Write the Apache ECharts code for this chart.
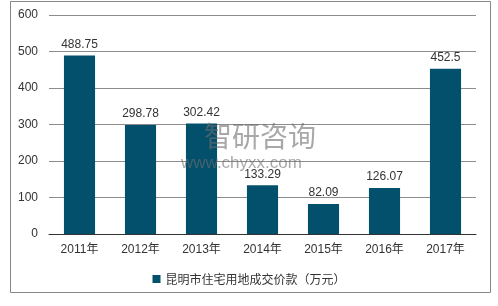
<!DOCTYPE html>
<html><head><meta charset="utf-8">
<script src="https://cdn.jsdelivr.net/npm/echarts@6/dist/echarts.min.js"></script>
<style>html,body{margin:0;padding:0;background:#fff}#c{width:498px;height:306px}</style>
</head><body><div id="c"></div>
<script>
const categories = ['2011年','2012年','2013年','2014年','2015年','2016年','2017年'];
const values = [488.75, 298.78, 302.42, 133.29, 82.09, 126.07, 452.5];
const labels = ['488.75','298.78','302.42','133.29','82.09','126.07','452.5'];
const seriesName = '昆明市住宅用地成交价款（万元）';
const font = '"Liberation Sans", Arial, "Noto Sans CJK SC", sans-serif';
const chart = echarts.init(document.getElementById('c'), null, {renderer:'canvas'});
chart.setOption({
  animation:false,
  textStyle:{fontFamily:font},
  graphic:[
    {type:'rect', shape:{x:10.5,y:1.5,width:480,height:291}, style:{fill:'none',stroke:'#888',lineWidth:1}, z:-1},
    {type:'text', left:204, top:122, style:{text:'智研咨询', font:'28px "Noto Sans CJK SC"', fill:'rgba(110,110,110,0.6)'}, z:10},
    {type:'text', left:181, top:155, style:{text:'www.chyxx.com', font:'17px "Liberation Sans"', fill:'rgba(110,110,110,0.6)'}, z:10}
  ],
  grid:{left:49, right:22, top:15, bottom:72, containLabel:false},
  legend:{bottom:16, left:'center', itemWidth:8, itemHeight:8, icon:'rect', itemGap:4,
    textStyle:{fontSize:12, color:'#333', fontFamily:'"Noto Sans CJK SC", sans-serif'}, data:[seriesName]},
  xAxis:{type:'category', data:categories,
    axisLine:{lineStyle:{color:'#333', width:1}}, axisTick:{show:false},
    axisLabel:{fontSize:12, color:'#333', margin:10, fontFamily:font}},
  yAxis:{type:'value', min:0, max:600, interval:100,
    axisLine:{show:false}, axisTick:{show:false},
    splitLine:{lineStyle:{color:'#8c8c8c', width:1}},
    axisLabel:{fontSize:12, color:'#333', margin:11, fontFamily:font}},
  series:[{name:seriesName, type:'bar', data:values, barWidth:'51%',
    itemStyle:{color:'#02506b'},
    label:{show:true, position:'top', distance:5, fontSize:12, color:'#333', fontFamily:font,
      formatter:p=>labels[p.dataIndex]}}]
});
</script></body></html>
